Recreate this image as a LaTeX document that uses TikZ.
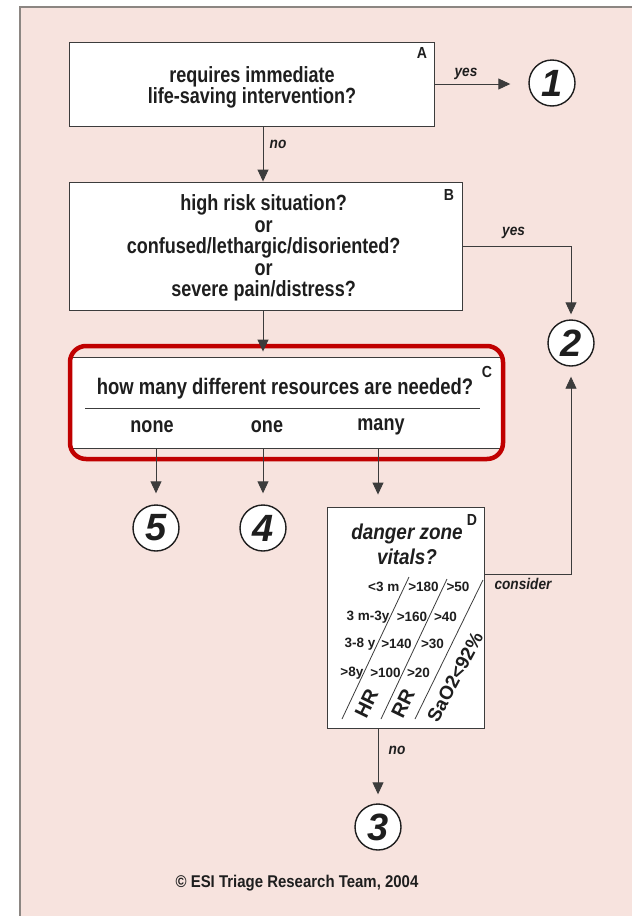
\documentclass[tikz,border=0pt]{standalone}
\usepackage{fontspec}
\setmainfont{Liberation Sans}
\newfontfamily\cnd{Liberation Sans}[FakeStretch=0.88]
\newfontfamily\cndb{Liberation Sans}[FakeStretch=0.82]
\usetikzlibrary{arrows.meta}
\definecolor{bgpink}{HTML}{F7E3DE}
\definecolor{framegray}{HTML}{8C8682}
\definecolor{esired}{HTML}{C00000}
\definecolor{ink}{HTML}{1E1E1E}
\definecolor{linegray}{HTML}{3C3C3C}
\tikzset{
  box/.style={draw=linegray, line width=0.9pt, fill=white, inner sep=0pt},
  qtext/.style={font=\cndb\bfseries\fontsize{22}{21.6}\selectfont, align=center, text=ink},
  num/.style={circle, draw=ink, line width=1.4pt, fill=white, minimum size=46pt, inner sep=0pt,
    font=\bfseries\itshape\fontsize{38}{38}\selectfont, text=ink},
  arr/.style={draw=linegray, line width=0.9pt, -{Triangle[length=12pt,width=11pt]}},
  lbl/.style={font=\cnd\bfseries\fontsize{16}{16}\selectfont, text=ink},
  edgelbl/.style={font=\cnd\bfseries\itshape\fontsize{15.5}{15.5}\selectfont, text=ink},
  vit/.style={font=\bfseries\fontsize{13.5}{13.5}\selectfont, text=ink, inner sep=0pt},
  slant/.style={draw=linegray, line width=0.8pt},
}
\begin{document}
\begin{tikzpicture}[x=1pt,y=-1pt]
\useasboundingbox (0,0) rectangle (632,916);
\fill[white] (0,0) rectangle (632,916);
\fill[bgpink] (20,7) rectangle (632,916);
\draw[framegray, line width=1.5pt] (20,916) -- (20,7) -- (632,7);

\coordinate (spine) at (263,0);
\coordinate (Dx) at (378,0);

% box A
\node[box, minimum width=365.5pt, minimum height=84pt] (A) at (251.75,84) {};
\node[qtext] (Atext) at (252,87.5) {requires immediate\\life-saving intervention?};
\node[lbl] (Alab) at (422,53) {A};
\node[num] (c1) at (552,83) {1};
\draw[arr, shorten >=18pt] (A.east) -- (A.east -| c1.west);
\node[edgelbl] (yesA) at (466,74) {yes};

% box B
\node[box, minimum width=393pt, minimum height=128pt] (B) at (265.5,246) {};
\node[qtext] (Btext) at (263.6,248) {high risk situation?\\or\\confused/lethargic/disoriented?\\or\\severe pain/distress?};
\node[lbl] (Blab) at (449,195) {B};
\draw[arr] (spine |- A.south) -- (spine |- B.north);
\node[edgelbl] (noA) at (278,144) {no};

\node[num] (c2) at (571,343) {2};
\draw[arr, shorten >=5pt] (B.east) -| (c2.north);
\node[edgelbl] (yesB) at (513.6,233) {yes};

% box C
\node[box, minimum width=432pt, minimum height=91pt] (C) at (286,402.5) {};
\node[draw=esired, line width=4.5pt, rounded corners=16pt, minimum width=433pt, minimum height=113pt, inner sep=0pt] (Cred) at (286.5,402.5) {};
\draw[arr, shorten >=5pt] (spine |- B.south) -- (spine |- C.north);
\node[qtext, font=\cndb\bfseries\fontsize{22.5}{22.5}\selectfont] (Ctext) at (285,389) {how many different resources are needed?};
\node[lbl] (Clab) at (487,372) {C};
\draw[linegray, line width=0.9pt] (85,408) coordinate (ruleL) -- (480,408) coordinate (ruleR);
\node[qtext] (none) at (152,427) {none};
\node[qtext] (one) at (267,427) {one};
\node[qtext] (many) at (381,427) {many};

\node[num] (c5) at (156,528) {5};
\node[num] (c4) at (263,528) {4};
\draw[arr, shorten >=11pt] (c5 |- C.south) -- (c5.north);
\draw[arr, shorten >=11pt] (c4 |- C.south) -- (c4.north);

% box D
\node[box, minimum width=157pt, minimum height=221pt] (D) at (405.5,617.5) {};
\draw[arr, shorten >=12pt] (Dx |- C.south) -- (Dx |- D.north);
\node[lbl] (Dlab) at (472,520) {D};
\node[font=\cnd\bfseries\itshape\fontsize{21.5}{21.5}\selectfont, text=ink] (dz) at (407,534) {danger zone};
\node[font=\cnd\bfseries\itshape\fontsize{21.5}{21.5}\selectfont, text=ink] (vt) at (407,557) {vitals?};

\draw[slant] (342,719) -- (409,577);
\draw[slant] (381,719) -- (447,579);
\draw[slant] (415,719) -- (483,580);

\node[vit, anchor=east] (r1a) at (399.5,587) {<3 m};
\node[vit] (r1b) at (423.5,587) {>180};
\node[vit] (r1c) at (458,587) {>50};
\node[vit, anchor=east] (r2a) at (389.5,617) {3 m-3y};
\node[vit] (r2b) at (412,617) {>160};
\node[vit] (r2c) at (445.5,617) {>40};
\node[vit, anchor=east] (r3a) at (375.5,644) {3-8 y};
\node[vit] (r3b) at (396.5,644) {>140};
\node[vit] (r3c) at (432.5,644) {>30};
\node[vit, anchor=east] (r4a) at (363.5,673) {>8y};
\node[vit] (r4b) at (385.5,673) {>100};
\node[vit] (r4c) at (418.5,673) {>20};

\node[font=\bfseries\fontsize{20}{20}\selectfont, text=ink, rotate=64] (HR) at (366.5,703) {HR};
\node[font=\bfseries\fontsize{20}{20}\selectfont, text=ink, rotate=64] (RR) at (403,703) {RR};
\node[font=\bfseries\fontsize{19}{19}\selectfont, text=ink, rotate=62] (sao) at (455,677) {SaO2<92\%};

\coordinate (Dc) at (484,574);
\draw[arr, shorten >=10pt] (Dc) -| (c2.south);
\node[edgelbl] (cons) at (523,584) {consider};

\node[num] (c3) at (378,827) {3};
\draw[arr, shorten >=9pt] (c3 |- D.south) -- (c3.north);
\node[edgelbl] (noD) at (397,750) {no};

\node[font=\cnd\bfseries\fontsize{17}{17}\selectfont, text=ink] (copy) at (297,883) {© ESI Triage Research Team, 2004};
\end{tikzpicture}
\end{document}
